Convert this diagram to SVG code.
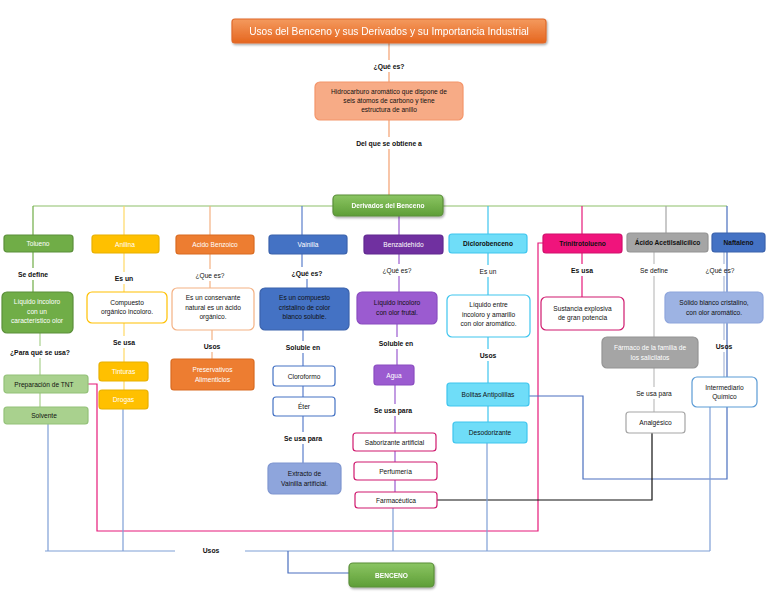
<svg xmlns="http://www.w3.org/2000/svg" width="768" height="594" viewBox="0 0 768 594">
<defs>
<filter id="sh" x="-10%" y="-20%" width="120%" height="150%">
<feDropShadow dx="1" dy="1.5" stdDeviation="1.2" flood-color="#000" flood-opacity="0.35"/>
</filter>
<linearGradient id="gOr" x1="0" y1="0" x2="0" y2="1"><stop offset="0" stop-color="#F49A5E"/><stop offset="1" stop-color="#E5661F"/></linearGradient>
<linearGradient id="gGr" x1="0" y1="0" x2="0" y2="1"><stop offset="0" stop-color="#8BC563"/><stop offset="1" stop-color="#5E9E36"/></linearGradient>
</defs>
<style>
text{font-family:"Liberation Sans",Arial,sans-serif;font-size:6.6px;text-anchor:middle;fill:#111}
.w{fill:#fff}
.b{font-weight:bold}
.lb{font-weight:bold;font-size:6.8px}
.ln{fill:none;stroke-width:1.2}
rect{stroke-width:1.2}
</style>
<rect width="768" height="594" fill="#fff"/>

<g id="connectors">
<!-- top -->
<path class="ln" stroke="#F4A070" d="M389 43V60M389 72V82M389 120V137M389 149V195"/>
<!-- main green bus -->
<path class="ln" stroke="#8DBF6A" d="M33 206H727"/>
<!-- Tolueno -->
<path class="ln" stroke="#70AD47" d="M33 206V235M33 252V268M33 280V292"/>
<path class="ln" stroke="#A9D18E" d="M40 333V346M40 358V375M40 393V407"/>
<!-- Anilina -->
<path class="ln" stroke="#FFD966" d="M124 206V235M124 253V272M124 284V292M124 323V336M124 348V362M124 381V390"/>
<!-- Acido Benzoico -->
<path class="ln" stroke="#F4B183" d="M210 206V235M210 254V269M210 281V288M212 330V340M212 352V359"/>
<!-- Vainilla -->
<path class="ln" stroke="#5B7FCC" d="M302 206V235M302 254V267M307 279V288M303 330V341M303 353V366M303 386V397M303 416V432M303 444V463"/>
<!-- Benzaldehido -->
<path class="ln" stroke="#9B5BD0" d="M399 216V235M399 254V264M399 276V292M397 324V337M397 349V365M395 385V404M395 416V433M395 451V462M395 480V492"/>
<!-- Diclorobenceno -->
<path class="ln" stroke="#3EC5EE" d="M488 206V234M488 253V265M488 277V295M488 337V349M488 361V383M488 406V422"/>
<!-- Trinitrotolueno -->
<path class="ln" stroke="#E6197A" d="M582 206V234M582 253V264M582 276V297"/>
<!-- Acido Acetilsalicilico -->
<path class="ln" stroke="#A5A5A5" d="M666 206V233"/>
<path class="ln" stroke="#BFBFBF" d="M654 252V264M654 276V337M654 368V387M654 399V412"/>
<!-- Naftaleno -->
<path class="ln" stroke="#A9B8D8" d="M724 252V264M724 276V292M724 323V340M724 352V377"/>
<!-- cross links -->
<path class="ln" stroke="#E6197A" d="M88 384H97V531H538V243H543"/>
<path class="ln" stroke="#4A6FBF" d="M529 396H583V479H727V206"/>
<path class="ln" stroke="#111" d="M437 500H652V433"/>
<!-- bottom bus -->
<path class="ln" stroke="#7F9FD6" d="M48 424V551M123 409V551M393 508V551M487 443V551M710 407V551M45 551H175M245 551H710"/>
<path class="ln" stroke="#4A6FBF" d="M288 551V573H349"/>
</g>

<g id="title" filter="url(#sh)">
<rect x="232" y="19" width="314" height="24" rx="3" fill="url(#gOr)" stroke="#E0692A"/>
<text x="389" y="34.5" class="w" style="font-size:10.2px">Usos del Benceno y sus Derivados y su Importancia Industrial</text>
</g>
<g id="lbl-top">
<text x="389" y="68.5" class="lb">¿Qué es?</text>
<text x="389" y="145.5" class="lb">Del que se obtiene a</text>
</g>
<g id="benceno-def">
<rect x="315" y="82" width="148" height="38" rx="5" fill="#F7AB86" stroke="#F4956A"/>
<text x="389" y="93.5">Hidrocarburo aromático que dispone de</text>
<text x="389" y="102.5">seis átomos de carbono y tiene</text>
<text x="389" y="111.5">estructura de anillo</text>
</g>
<g id="derivados" filter="url(#sh)">
<rect x="333" y="195" width="110" height="21" rx="4" fill="url(#gGr)" stroke="#5B8F3A"/>
<text x="388" y="208" class="w b">Derivados del Benceno</text>
</g>

<!-- Tolueno -->
<g id="tolueno">
<rect x="4" y="235" width="69" height="17" rx="3" fill="#70AD47" stroke="#5B8F3A"/>
<text x="38" y="246" class="w">Tolueno</text>
<text x="33" y="276.5" class="lb">Se define</text>
<rect x="2" y="292" width="71" height="41" rx="5" fill="#70AD47" stroke="#5B8F3A"/>
<text x="37" y="304" class="w">Líquido incoloro</text>
<text x="37" y="313.5" class="w">con un</text>
<text x="37" y="323" class="w">característico olor</text>
<text x="40" y="354.5" class="lb">¿Para qué se usa?</text>
<rect x="4" y="375" width="84" height="18" rx="3" fill="#A9D18E" stroke="#93C178"/>
<text x="44" y="386.5">Preparación de TNT</text>
<rect x="4" y="407" width="84" height="17" rx="3" fill="#A9D18E" stroke="#93C178"/>
<text x="44" y="418">Solvente</text>
</g>

<!-- Anilina -->
<g id="anilina">
<rect x="92" y="235" width="67" height="18" rx="3" fill="#FFC000" stroke="#E8B000"/>
<text x="125" y="246.5" class="w">Anilina</text>
<text x="124" y="280.5" class="lb">Es un</text>
<rect x="87" y="292" width="80" height="31" rx="5" fill="#fff" stroke="#FFC000"/>
<text x="127" y="304.5">Compuesto</text>
<text x="127" y="314">orgánico incoloro.</text>
<text x="124" y="344.5" class="lb">Se usa</text>
<rect x="99" y="362" width="49" height="19" rx="3" fill="#FFC000" stroke="#E8B000"/>
<text x="123.5" y="374" class="w">Tinturas</text>
<rect x="99" y="390" width="49" height="19" rx="3" fill="#FFC000" stroke="#E8B000"/>
<text x="123.5" y="402" class="w">Drogas</text>
</g>

<!-- Acido Benzoico -->
<g id="acido-benzoico">
<rect x="176" y="235" width="78" height="19" rx="3" fill="#ED7D31" stroke="#D96A20"/>
<text x="215" y="247" class="w">Acido Benzoico</text>
<text x="210" y="277.5">¿Que es?</text>
<rect x="172" y="288" width="82" height="42" rx="5" fill="#fff" stroke="#F4B183"/>
<text x="213" y="300">Es un conservante</text>
<text x="213" y="309.5">natural es un ácido</text>
<text x="213" y="319">orgánico.</text>
<text x="212" y="348.5" class="lb">Usos</text>
<rect x="171" y="359" width="83" height="31" rx="3" fill="#ED7D31" stroke="#D96A20"/>
<text x="212.5" y="372" class="w">Preservativos</text>
<text x="212.5" y="381.5" class="w">Alimenticios</text>
</g>

<!-- Vainilla -->
<g id="vainilla">
<rect x="269" y="235" width="78" height="19" rx="3" fill="#4472C4" stroke="#3A62AC"/>
<text x="308" y="247" class="w">Vainilla</text>
<text x="307" y="275.5" class="lb">¿Qué es?</text>
<rect x="260" y="288" width="89" height="42" rx="5" fill="#4472C4" stroke="#3A62AC"/>
<text x="304.5" y="300">Es un compuesto</text>
<text x="304.5" y="309.5">cristalino de color</text>
<text x="304.5" y="319">blanco soluble.</text>
<text x="303" y="349.5" class="lb">Soluble en</text>
<rect x="273" y="366" width="62" height="20" rx="3" fill="#fff" stroke="#4472C4"/>
<text x="304" y="378.5">Cloroformo</text>
<rect x="273" y="397" width="62" height="19" rx="3" fill="#fff" stroke="#4472C4"/>
<text x="304" y="409">Éter</text>
<text x="303" y="440.5" class="lb">Se usa para</text>
<rect x="268" y="463" width="73" height="31" rx="5" fill="#8EA5DC" stroke="#7F96D0"/>
<text x="304.5" y="476">Extracto de</text>
<text x="304.5" y="485.5">Vainilla artificial.</text>
</g>

<!-- Benzaldehido -->
<g id="benzaldehido">
<rect x="364" y="235" width="79" height="19" rx="3" fill="#7030A0" stroke="#602890"/>
<text x="403.5" y="247" class="w">Benzaldehído</text>
<text x="397" y="272.5">¿Qué es?</text>
<rect x="357" y="292" width="80" height="32" rx="5" fill="#9B5BD0" stroke="#8A4CC0"/>
<text x="397" y="305">Líquido incoloro</text>
<text x="397" y="314.5">con olor frutal.</text>
<text x="396" y="345.5" class="lb">Soluble en</text>
<rect x="374" y="365" width="40" height="20" rx="3" fill="#9B5BD0" stroke="#8A4CC0"/>
<text x="394" y="377.5" class="w">Agua</text>
<text x="393" y="412.5" class="lb">Se usa para</text>
<rect x="353" y="433" width="83" height="18" rx="3" fill="#fff" stroke="#D0196E"/>
<text x="394.5" y="444.5">Saborizante artificial</text>
<rect x="354" y="462" width="83" height="18" rx="3" fill="#fff" stroke="#D0196E"/>
<text x="395.5" y="473.5">Perfumería</text>
<rect x="355" y="492" width="82" height="16" rx="3" fill="#fff" stroke="#D0196E"/>
<text x="396" y="502.5">Farmacéutica</text>
</g>

<!-- Diclorobenceno -->
<g id="diclorobenceno">
<rect x="449" y="234" width="78" height="19" rx="3" fill="#6FDDF8" stroke="#3EC5EE"/>
<text x="488" y="246" class="b">Diclorobenceno</text>
<text x="488" y="273.5">Es un</text>
<rect x="447" y="295" width="83" height="42" rx="5" fill="#fff" stroke="#3EC5EE"/>
<text x="488.5" y="307">Líquido entre</text>
<text x="488.5" y="316.5">incoloro y amarillo</text>
<text x="488.5" y="326">con olor aromático.</text>
<text x="488" y="357.5" class="lb">Usos</text>
<rect x="447" y="383" width="82" height="23" rx="3" fill="#6FDDF8" stroke="#3EC5EE"/>
<text x="488" y="397">Bolitas Antipolillas</text>
<rect x="453" y="422" width="74" height="21" rx="3" fill="#6FDDF8" stroke="#3EC5EE"/>
<text x="490" y="435">Desodorizante</text>
</g>

<!-- Trinitrotolueno -->
<g id="trinitrotolueno">
<rect x="543" y="234" width="79" height="19" rx="3" fill="#F0147C" stroke="#D0106C"/>
<text x="582.5" y="246" class="b">Trinitrotolueno</text>
<text x="582" y="272.5" class="lb">Es usa</text>
<rect x="541" y="297" width="83" height="33" rx="5" fill="#fff" stroke="#D0196E"/>
<text x="582.5" y="310.5">Sustancia explosiva</text>
<text x="582.5" y="320">de gran potencia</text>
</g>

<!-- Acido Acetilsalicilico -->
<g id="acido-acetilsalicilico">
<rect x="627" y="233" width="81" height="19" rx="3" fill="#A5A5A5" stroke="#949494"/>
<text x="667.5" y="245" class="b">Ácido Acetilsalicílico</text>
<text x="654" y="272.5">Se define</text>
<rect x="602" y="337" width="96" height="31" rx="5" fill="#A5A5A5" stroke="#949494"/>
<text x="650" y="350" class="w">Fármaco de la familia de</text>
<text x="650" y="359.5" class="w">los salicilatos</text>
<text x="654" y="395.5">Se usa para</text>
<rect x="626" y="412" width="59" height="21" rx="3" fill="#fff" stroke="#A5A5A5"/>
<text x="655.5" y="425">Analgésico</text>
</g>

<!-- Naftaleno -->
<g id="naftaleno">
<rect x="712" y="233" width="53" height="19" rx="3" fill="#4472C4" stroke="#3A62AC"/>
<text x="738.5" y="245" class="b">Naftaleno</text>
<text x="720" y="272.5">¿Qué es?</text>
<rect x="665" y="292" width="98" height="31" rx="5" fill="#9DB3E3" stroke="#8EA5DC"/>
<text x="714" y="305">Sólido blanco cristalino,</text>
<text x="714" y="314.5">con olor aromático.</text>
<text x="724" y="348.5" class="lb">Usos</text>
<rect x="692" y="377" width="65" height="30" rx="5" fill="#fff" stroke="#5B9BD5"/>
<text x="724.5" y="389.5">Intermediario</text>
<text x="724.5" y="399">Químico</text>
</g>

<g id="usos-label">
<text x="211" y="553" class="lb">Usos</text>
</g>
<g id="benceno" filter="url(#sh)">
<rect x="349" y="563" width="85" height="24" rx="4" fill="url(#gGr)" stroke="#5B8F3A"/>
<text x="391.5" y="577.5" class="w b">BENCENO</text>
</g>
</svg>
